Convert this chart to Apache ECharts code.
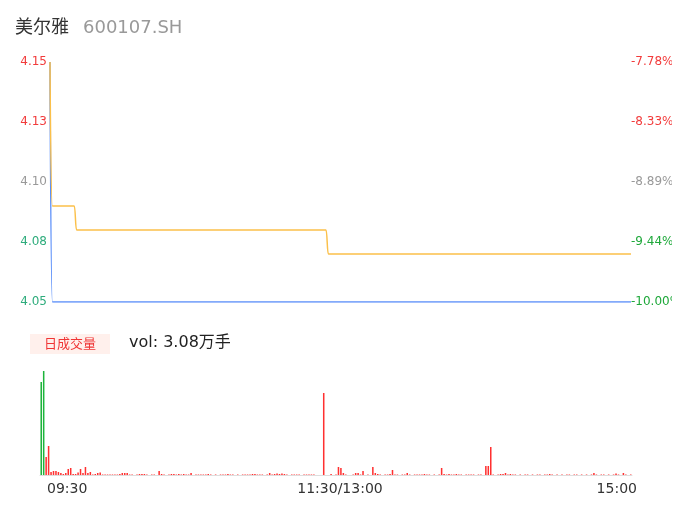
<!DOCTYPE html>
<html>
<head>
<meta charset="utf-8">
<script src="https://cdn.jsdelivr.net/npm/echarts@6/dist/echarts.min.js"></script>
<style>
html,body{margin:0;padding:0;background:#fff;}
#chart{width:672px;height:524px;}
</style>
</head>
<body>
<div id="chart"></div>
<script>
// ---- data ----
var stockName = '美尔雅';
var stockCode = '600107.SH';
var volText = 'vol: 3.08万手';
var prevClose = 4.50;
var timeLabels = {0: '09:30', 120: '11:30/13:00', 240: '15:00'};
var leftTickLabels = ['4.05', '4.08', '4.10', '4.13', '4.15'];
var rightTickLabels = ['-10.00%', '-9.44%', '-8.89%', '-8.33%', '-7.78%'];
// price runs: [value, number of minutes]
var priceRuns = [[4.15, 1], [4.05, 240]];
var avgRuns = [[4.15, 1], [4.09, 10], [4.08, 104], [4.07, 126]];
// volume (hands) per minute, 241 minutes
var volume = [
 5580, 6240, 1080, 1740, 180, 240, 240, 180, 120, 60,
 120, 360, 420, 60, 60, 150, 360, 120, 480, 120,
 180, 30, 60, 120, 150, 30, 30, 30, 30, 30,
 30, 30, 60, 120, 120, 120, 30, 30, 0, 30,
 60, 60, 60, 30, 0, 30, 30, 0, 240, 60,
 30, 0, 30, 60, 60, 30, 60, 30, 60, 30,
 30, 120, 0, 30, 30, 30, 30, 30, 60, 30,
 0, 30, 0, 30, 30, 30, 60, 30, 30, 0,
 30, 0, 30, 30, 30, 30, 60, 60, 30, 30,
 30, 0, 30, 120, 30, 60, 90, 60, 90, 60,
 30, 0, 30, 30, 30, 30, 0, 30, 30, 30,
 30, 30, 0, 0, 0, 4920, 0, 0, 60, 0,
 30, 480, 420, 120, 30, 0, 0, 30, 120, 120,
 30, 240, 0, 30, 0, 480, 120, 60, 30, 0,
 30, 30, 60, 300, 30, 30, 0, 30, 30, 120,
 30, 0, 30, 30, 30, 30, 60, 30, 30, 0,
 30, 0, 30, 420, 60, 30, 60, 30, 30, 60,
 30, 30, 0, 30, 30, 30, 30, 0, 30, 30,
 0, 540, 540, 1680, 30, 0, 30, 60, 60, 120,
 30, 60, 30, 30, 0, 30, 0, 30, 30, 0,
 30, 0, 30, 30, 0, 30, 30, 60, 30, 0,
 30, 0, 30, 0, 30, 30, 0, 30, 30, 0,
 30, 0, 30, 0, 30, 120, 30, 0, 30, 30,
 0, 30, 0, 30, 90, 30, 0, 120, 30, 0,
 30
];

function expand(runs) {
  var out = [];
  runs.forEach(function (r) { for (var k = 0; k < r[1]; k++) out.push(r[0]); });
  return out;
}
var price = expand(priceRuns);
var avgPrice = expand(avgRuns);
var cats = price.map(function (_, i) { return i; });

var FONT = '"DejaVu Sans", "Noto Sans CJK SC", sans-serif';
var RED = '#f23b3b', GREEN = '#1ea83a', GRAY = '#999999', LGREEN = '#2eac7c';
var yMin = 4.05, yMax = 4.15, yInt = 0.025;
function tickIdx(v) { return Math.round((v - yMin) / yInt); }

var volColors = volume.map(function (v, i) {
  var ref = i === 0 ? prevClose : price[i - 1];
  return price[i] < ref ? '#1db43b' : '#ff3030';
});

var chart = echarts.init(document.getElementById('chart'), null, {renderer: 'canvas'});
chart.setOption({
  animation: false,
  backgroundColor: '#fff',
  textStyle: {fontFamily: FONT},
  title: [
    {text: '{a|' + stockName + '}{b|' + stockCode + '}', left: 15, top: 19, padding: 0,
     textStyle: {fontWeight: 'normal', fontFamily: FONT,
       rich: {a: {fontSize: 18, color: '#333', fontFamily: FONT},
              b: {fontSize: 18, color: '#999', fontFamily: FONT, padding: [0, 0, 0, 14]}}}},
    {text: '日成交量', left: 30, top: 334, padding: [4, 14, 3, 14], backgroundColor: '#fff0ec',
     textStyle: {fontSize: 13, color: '#f03535', fontWeight: 'normal', fontFamily: FONT}},
    {text: volText, left: 129, top: 335, padding: 0,
     textStyle: {fontSize: 16, color: '#222', fontWeight: 'normal', fontFamily: FONT}}
  ],
  grid: [
    {left: 50, right: 41, top: 62, bottom: 222, outerBoundsMode: 'none', containLabel: false},
    {left: 40, right: 40, top: 371, bottom: 49, outerBoundsMode: 'none', containLabel: false}
  ],
  xAxis: [
    {type: 'category', gridIndex: 0, data: cats, boundaryGap: false,
     axisLine: {show: false}, axisTick: {show: false}, axisLabel: {show: false}, splitLine: {show: false}},
    {type: 'category', gridIndex: 1, data: cats, boundaryGap: true,
     axisLine: {show: true, lineStyle: {color: '#dddddd', width: 1}},
     axisTick: {show: false}, splitLine: {show: false},
     axisLabel: {
       show: true, margin: 7, color: '#333', fontSize: 14, fontFamily: FONT,
       interval: function (i) { return timeLabels[i] !== undefined; },
       formatter: function (v, i) {
         var t = timeLabels[v];
         if (t === undefined) return '';
         if (+v === 0) return '{f|' + t + '}';
         if (+v === 240) return '{l|' + t + '}';
         return '{m|' + t + '}';
       },
       rich: {
         f: {fontSize: 14, color: '#333', fontFamily: FONT, padding: [0, 0, 0, 52]},
         m: {fontSize: 14, color: '#333', fontFamily: FONT, padding: [0, 0, 0, 8]},
         l: {fontSize: 14, color: '#333', fontFamily: FONT, padding: [0, 28, 0, 0]}
       }
     }}
  ],
  yAxis: [
    {type: 'value', gridIndex: 0, min: yMin, max: yMax, interval: yInt, position: 'left',
     axisLine: {show: false}, axisTick: {show: false}, splitLine: {show: false},
     axisLabel: {margin: 3, fontSize: 12, fontFamily: FONT,
       formatter: function (v) { return leftTickLabels[tickIdx(v)]; },
       color: function (v) { var k = tickIdx(v); return k > 2 ? RED : (k === 2 ? GRAY : LGREEN); }}},
    {type: 'value', gridIndex: 0, min: yMin, max: yMax, interval: yInt, position: 'right',
     axisLine: {show: false}, axisTick: {show: false}, splitLine: {show: false},
     axisLabel: {margin: 0, fontSize: 12, fontFamily: FONT,
       formatter: function (v) { return rightTickLabels[tickIdx(v)]; },
       color: function (v) { var k = tickIdx(v); return k > 2 ? RED : (k === 2 ? GRAY : GREEN); }}},
    {type: 'value', gridIndex: 1, min: 0, max: Math.max.apply(null, volume),
     axisLine: {show: false}, axisTick: {show: false}, splitLine: {show: false}, axisLabel: {show: false}}
  ],
  series: [
    {type: 'line', xAxisIndex: 0, yAxisIndex: 0, data: price, showSymbol: false, smooth: 0.3,
     lineStyle: {color: '#5b8ff9', width: 1.5}, itemStyle: {color: '#5b8ff9'}},
    {type: 'line', xAxisIndex: 0, yAxisIndex: 0, data: avgPrice, showSymbol: false, smooth: 0.3,
     lineStyle: {color: '#fbc04a', width: 1.5}, itemStyle: {color: '#fbc04a'}},
    {type: 'bar', xAxisIndex: 1, yAxisIndex: 2, barWidth: '62%',
     data: volume.map(function (v, i) { return {value: v, itemStyle: {color: volColors[i]}}; })}
  ]
});
</script>
</body>
</html>
